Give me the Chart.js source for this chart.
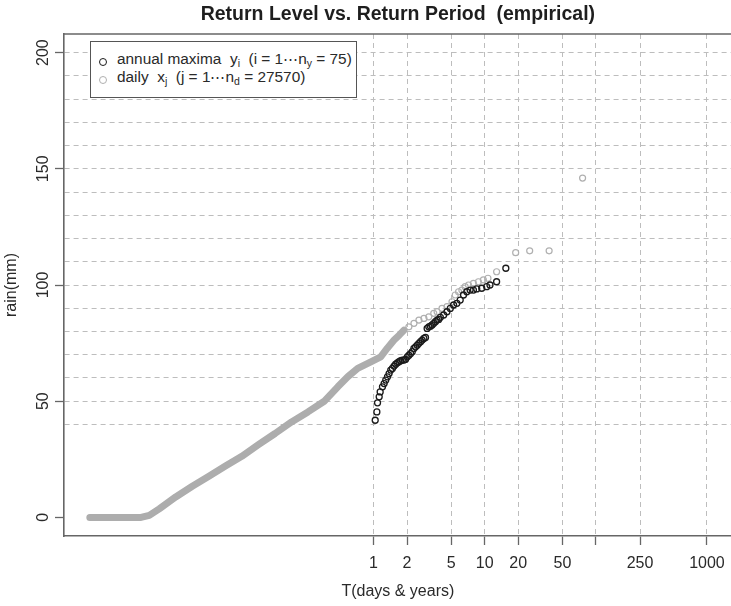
<!DOCTYPE html>
<html>
<head>
<meta charset="utf-8">
<script src="https://cdn.jsdelivr.net/npm/chart.js@4.4.0/dist/chart.umd.min.js"></script>
<style>
  html, body { margin: 0; padding: 0; background: #fff; overflow: hidden; }
  #contenedor { position: relative; width: 737px; height: 606px; }
  #leyenda {
    position: absolute; left: 90px; top: 41px; width: 267px; height: 57px;
    box-sizing: border-box; border: 1px solid #555; background: #fff;
    font-family: "Liberation Sans", Arial, sans-serif; font-size: 15.4px; color: #2a2a2a;
  }
  .fila { position: absolute; left: 26px; white-space: pre; line-height: 18px; }
  .fila sub { font-size: 10.5px; line-height: 0; vertical-align: -3px; }
  .simbolo { position: absolute; left: 8px; width: 6px; height: 6px; border-radius: 50%; border: 1.3px solid; }
</style>
</head>
<body>
<div id="contenedor">
  <canvas id="grafico" width="737" height="606"></canvas>
  <div id="leyenda">
    <span class="simbolo" style="top:16px; border-color:#1b1b1b"></span>
    <div class="fila" style="top:8px">annual maxima  y<sub>i</sub>  (i = 1⋯n<sub>y</sub> = 75)</div>
    <span class="simbolo" style="top:34px; border-color:#b0b0b0"></span>
    <div class="fila" style="top:26px">daily  x<sub>j</sub>  (j = 1⋯n<sub>d</sub> = 27570)</div>
  </div>
</div>
<script>
const titulo = "Return Level vs. Return Period  (empirical)";

// maximos anuales: periodo de retorno (años) y lluvia (mm)
const anualT = [1.035, 1.071, 1.086, 1.124, 1.147, 1.203, 1.245, 1.288, 1.334, 1.380,
  1.428, 1.478, 1.529, 1.582, 1.637, 1.695, 1.754, 1.815, 1.878, 1.944,
  2.012, 2.082, 2.154, 2.229, 2.307, 2.388, 2.472, 2.557, 2.647, 2.738,
  2.835, 2.934, 3.035, 3.141, 3.250, 3.364, 3.481, 3.602, 3.728, 3.857,
  3.992, 4.275, 4.578, 4.902, 5.251, 5.623, 6.022, 6.449, 6.906, 7.396,
  7.921, 8.483, 9.401, 10.42, 11.16, 12.80, 15.50];
const anualLluvia = [41.8, 45.4, 49.3, 51.9, 54.0, 56.2, 57.6, 59.1, 60.5, 61.9,
  63.4, 64.1, 65.1, 65.9, 66.5, 67.0, 67.4, 67.7, 67.7, 68.0,
  69.1, 69.8, 70.5, 71.3, 72.7, 73.4, 74.1, 74.9, 75.6, 76.3,
  77.0, 77.4, 81.3, 82.0, 82.3, 82.8, 83.5, 84.2, 84.9, 85.2,
  86.1, 87.1, 88.5, 89.9, 91.4, 92.1, 93.5, 95.7, 97.1, 97.8,
  97.8, 98.3, 98.6, 99.3, 100.0, 101.4, 107.2];

// datos diarios: la parte densa se ve como una banda continua
const diarioBandaT = [0.00280, 0.00809, 0.0096, 0.0118, 0.0166, 0.0234, 0.0330, 0.0465,
  0.0653, 0.0921, 0.130, 0.183, 0.257, 0.363, 0.477, 0.586, 0.720, 0.946,
  1.16, 1.33, 1.53, 1.70, 1.88];
const diarioBandaLluvia = [0, 0, 0.9, 3.7, 8.8, 13.4, 17.7, 22.1,
  26.3, 31.3, 36.1, 41.1, 45.4, 50.1, 56.2, 60.5, 64.1, 66.9,
  69.1, 72.8, 76.3, 78.4, 80.6];

// cola de los diarios, puntos sueltos
const diarioColaT = [2.08, 2.31, 2.56, 2.84, 3.14, 3.48, 3.73, 4.13, 4.58, 5.08,
  5.43, 5.82, 6.23, 6.67, 7.15, 7.92, 8.78, 9.73, 10.7, 12.8,
  19.0, 25.4, 38.0, 76.0];
const diarioColaLluvia = [82.0, 83.5, 84.9, 85.6, 86.3, 87.8, 88.5, 89.9, 90.7, 92.8,
  95.7, 97.1, 97.8, 99.3, 100.0, 100.7, 101.4, 102.2, 102.9, 105.7,
  113.9, 114.7, 114.7, 146.0];

const ticksX = [1, 2, 5, 10, 20, 50, 100, 250, 1000];
const etiquetasX = ["1", "2", "5", "10", "20", "50", "", "250", "1000"];
const ticksY = [0, 50, 100, 150, 200];
const rejillaY = [40, 50, 60, 70, 80, 90, 100, 110, 120, 130, 140, 150, 160, 170, 180, 190, 200];

const X_MIN = 0.00164, X_MAX = 1669;
const Y_MIN = -8, Y_MAX = 208;

const fuente = { family: '"Liberation Sans", Arial, sans-serif', size: 16 };
const colorTexto = "#2a2a2a";
const colorRejilla = "#bdbdbd";
const colorMarco = "#666";

function puntos(xs, ys) {
    return xs.map((x, i) => ({ x: x, y: ys[i] }));
}

// titulo centrado sobre el area del grafico y linea superior del marco
const marcoYTitulo = {
    id: "marcoYTitulo",
    afterDraw(chart) {
        const { ctx, chartArea } = chart;
        ctx.save();
        ctx.strokeStyle = colorMarco;
        ctx.lineWidth = 1.6;
        ctx.beginPath();
        ctx.moveTo(chartArea.left, chartArea.top);
        ctx.lineTo(chartArea.right, chartArea.top);
        ctx.stroke();
        ctx.fillStyle = "#1e1e1e";
        ctx.font = 'bold 19.5px "Liberation Sans", Arial, sans-serif';
        ctx.textAlign = "center";
        ctx.textBaseline = "middle";
        ctx.fillText(titulo, (chartArea.left + chartArea.right) / 2, 14.5);
        ctx.restore();
    }
};

const config = {
    type: "scatter",
    data: {
        datasets: [
            {
                label: "annual maxima",
                data: puntos(anualT, anualLluvia),
                pointRadius: 3,
                pointBorderWidth: 1.3,
                borderColor: "#1b1b1b",
                backgroundColor: "rgba(0,0,0,0)"
            },
            {
                label: "daily",
                data: puntos(diarioColaT, diarioColaLluvia),
                pointRadius: 3,
                pointBorderWidth: 1.2,
                borderColor: "#b0b0b0",
                backgroundColor: "rgba(0,0,0,0)"
            },
            {
                label: "daily banda",
                data: puntos(diarioBandaT, diarioBandaLluvia),
                showLine: true,
                pointRadius: 0,
                borderWidth: 7,
                borderColor: "#adadad",
                borderCapStyle: "round",
                borderJoinStyle: "round",
                tension: 0
            }
        ]
    },
    options: {
        responsive: false,
        animation: false,
        layout: { padding: { top: 34, left: 0, right: 0, bottom: 0 } },
        plugins: {
            legend: { display: false },
            tooltip: { enabled: false },
            title: { display: false }
        },
        scales: {
            x: {
                type: "logarithmic",
                min: X_MIN,
                max: X_MAX,
                afterBuildTicks: (s) => { s.ticks = ticksX.map(v => ({ value: v })); },
                afterFit: (s) => { s.height = 70; },
                ticks: {
                    autoSkip: false,
                    maxRotation: 0,
                    padding: 8.5,
                    color: colorTexto,
                    font: fuente,
                    callback: (v) => etiquetasX[ticksX.indexOf(v)]
                },
                grid: {
                    color: colorRejilla,
                    lineWidth: 1,
                    tickLength: 9,
                    tickColor: colorMarco,
                    tickWidth: 1.3
                },
                border: { display: true, color: colorMarco, width: 1.6, dash: [5, 4] },
                title: {
                    display: true,
                    text: "T(days & years)",
                    color: colorTexto,
                    font: fuente,
                    padding: { top: 0, bottom: 4.4 }
                }
            },
            y: {
                type: "linear",
                min: Y_MIN,
                max: Y_MAX,
                afterBuildTicks: (s) => {
                    const vals = [0].concat(rejillaY);
                    s.ticks = vals.map(v => ({ value: v }));
                },
                afterFit: (s) => { s.width = 64; },
                ticks: {
                    autoSkip: false,
                    minRotation: 90,
                    maxRotation: 90,
                    crossAlign: "center",
                    padding: -2,
                    color: colorTexto,
                    font: fuente,
                    callback: (v) => ticksY.includes(v) ? String(v) : ""
                },
                grid: {
                    color: (c) => (c.tick && c.tick.value === 0) ? "rgba(0,0,0,0)" : colorRejilla,
                    lineWidth: 1,
                    tickLength: 9,
                    tickColor: (c) => (c.tick && ticksY.includes(c.tick.value)) ? colorMarco : "rgba(0,0,0,0)",
                    tickWidth: 1.3
                },
                border: { display: true, color: colorMarco, width: 1.6, dash: [5, 4] },
                title: {
                    display: true,
                    text: "rain(mm)",
                    color: colorTexto,
                    font: fuente,
                    padding: { top: 2.4, bottom: 0 }
                }
            }
        }
    },
    plugins: [marcoYTitulo]
};

const grafico = new Chart(document.getElementById("grafico"), config);
</script>
</body>
</html>
